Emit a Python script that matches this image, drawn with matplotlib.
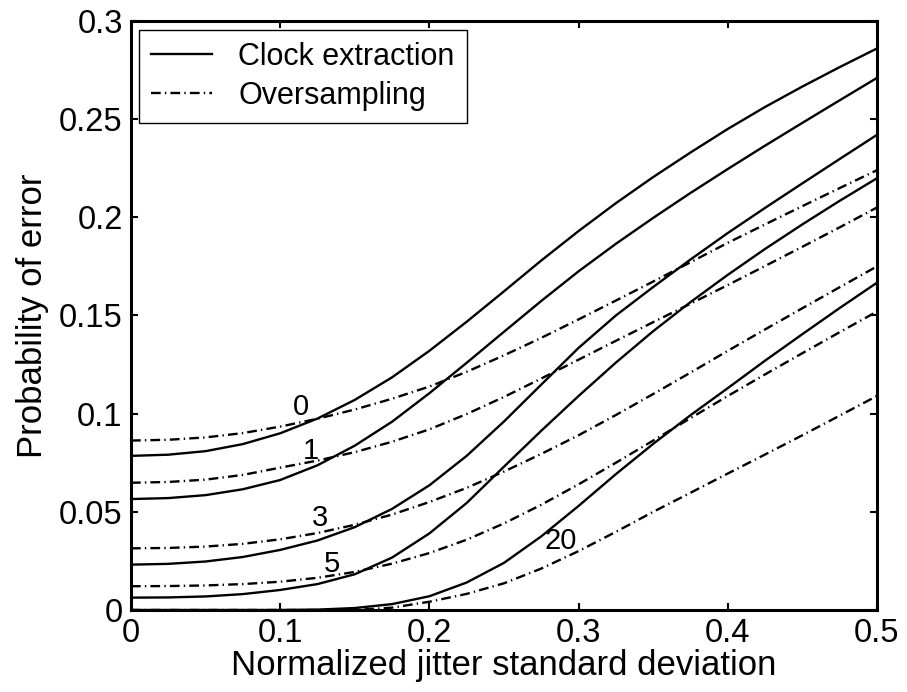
import matplotlib
matplotlib.use('Agg')
import matplotlib.pyplot as plt
import numpy as np

# jitter std (normalized) where the curves were read
jitter = [0.0, 0.025, 0.05, 0.075, 0.1, 0.125, 0.15, 0.175, 0.2, 0.225, 0.25,
          0.275, 0.3, 0.325, 0.35, 0.375, 0.4, 0.425, 0.45, 0.475, 0.5]

# clock extraction curves, one per parameter value
clock_0 = [0.0785, 0.0791, 0.0809, 0.0845, 0.0900, 0.0975, 0.1070, 0.1185, 0.1320, 0.1468, 0.1623,
           0.1780, 0.1930, 0.2072, 0.2205, 0.2330, 0.2450, 0.2562, 0.2666, 0.2765, 0.2860]
clock_1 = [0.0565, 0.0570, 0.0585, 0.0615, 0.0662, 0.0737, 0.0837, 0.0959, 0.1104, 0.1259, 0.1417,
           0.1574, 0.1725, 0.1865, 0.1997, 0.2124, 0.2246, 0.2365, 0.2481, 0.2596, 0.2710]
clock_3 = [0.0231, 0.0235, 0.0247, 0.0270, 0.0306, 0.0354, 0.0422, 0.0515, 0.0635, 0.0785, 0.0960,
           0.1148, 0.1335, 0.1500, 0.1645, 0.1785, 0.1920, 0.2048, 0.2173, 0.2297, 0.2420]
clock_5 = [0.0063, 0.0064, 0.0069, 0.0081, 0.0102, 0.0132, 0.0182, 0.0267, 0.0390, 0.0545, 0.0730,
           0.0913, 0.1090, 0.1260, 0.1420, 0.1568, 0.1707, 0.1839, 0.1964, 0.2084, 0.2199]
clock_20 = [0.0, 0.0, 0.0, 0.0, 0.0, 0.0002, 0.0010, 0.0030, 0.0070, 0.0140, 0.0240,
            0.0375, 0.0530, 0.0692, 0.0846, 0.0992, 0.1130, 0.1270, 0.1405, 0.1538, 0.1667]

# oversampling curves
over_0 = [0.0863, 0.0867, 0.0879, 0.0901, 0.0934, 0.0974, 0.1021, 0.1076, 0.1138, 0.1213, 0.1297,
          0.1386, 0.1480, 0.1576, 0.1673, 0.1771, 0.1870, 0.1964, 0.2057, 0.2149, 0.2240]
over_1 = [0.0648, 0.0652, 0.0664, 0.0688, 0.0725, 0.0761, 0.0804, 0.0857, 0.0920, 0.0998, 0.1085,
          0.1179, 0.1275, 0.1371, 0.1466, 0.1560, 0.1655, 0.1752, 0.1850, 0.1949, 0.2050]
over_3 = [0.0314, 0.0316, 0.0323, 0.0337, 0.0360, 0.0392, 0.0434, 0.0486, 0.0550, 0.0622, 0.0705,
          0.0795, 0.0890, 0.0993, 0.1100, 0.1209, 0.1320, 0.1429, 0.1537, 0.1644, 0.1750]
over_5 = [0.0121, 0.0122, 0.0125, 0.0132, 0.0144, 0.0164, 0.0194, 0.0236, 0.0290, 0.0358, 0.0441,
          0.0536, 0.0640, 0.0750, 0.0863, 0.0977, 0.1090, 0.1200, 0.1308, 0.1415, 0.1520]
over_20 = [0.0, 0.0, 0.0, 0.0, 0.0, 0.0, 0.0, 0.0012, 0.0042, 0.0082, 0.0136,
           0.0211, 0.0300, 0.0398, 0.0500, 0.0597, 0.0695, 0.0792, 0.0890, 0.0990, 0.1090]

clock_curves = [clock_0, clock_1, clock_3, clock_5, clock_20]
over_curves = [over_0, over_1, over_3, over_5, over_20]

# curve annotations: label, x, y
curve_labels = ['0', '1', '3', '5', '20']
label_x = [0.114, 0.1206, 0.1267, 0.1344, 0.2882]
label_y = [0.1034, 0.081, 0.0469, 0.0234, 0.0349]

xticks = [0, 0.1, 0.2, 0.3, 0.4, 0.5]
yticks = [0, 0.05, 0.1, 0.15, 0.2, 0.25, 0.3]

plt.rcParams['font.family'] = ['Liberation Sans', 'DejaVu Sans']
plt.rcParams['lines.scale_dashes'] = False

fig = plt.figure(figsize=(9.07, 6.92), dpi=100)
ax = fig.add_axes([0.1444, 0.1185, 0.8225, 0.8512])

dashdot = (0, (7, 3, 1, 3))
for i in range(len(clock_curves)):
    ax.plot(jitter, clock_curves[i], color='black', lw=1.7, ls='-',
            solid_joinstyle='round', label='Clock extraction' if i == 0 else None)
    ax.plot(jitter, over_curves[i], color='black', lw=1.7, ls=dashdot,
            label='Oversampling' if i == 0 else None)

for lab, lx, ly in zip(curve_labels, label_x, label_y):
    ax.text(lx, ly, lab, fontsize=21, ha='center', va='center')

ax.set_xlim(0, 0.5)
ax.set_ylim(0, 0.3)
ax.set_xticks(xticks)
ax.set_xticklabels([('%g' % t) for t in xticks])
ax.set_yticks(yticks)
ax.set_yticklabels([('%g' % t) for t in yticks])
ax.tick_params(direction='in', length=5, width=1.5, labelsize=23.5,
               top=True, right=True, pad=6)
for sp in ax.spines.values():
    sp.set_linewidth(2.2)

ax.set_xlabel('Normalized jitter standard deviation', fontsize=25, labelpad=0)
ax.set_ylabel('Probability of error', fontsize=25, labelpad=7)

leg = ax.legend(loc='upper left', bbox_to_anchor=(0.0107, 0.985), borderaxespad=0,
                fontsize=22, handlelength=2.0, handletextpad=0.85,
                labelspacing=0.3, borderpad=0.4, fancybox=False, framealpha=1)
leg.get_frame().set_edgecolor('black')
leg.get_frame().set_linewidth(1.0)

fig.savefig('out.png', dpi=100)
